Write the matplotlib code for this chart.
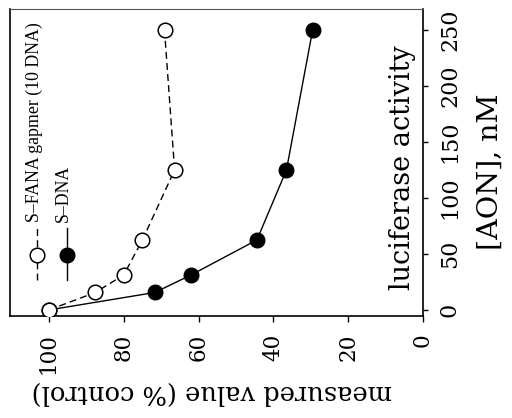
import matplotlib
matplotlib.use("Agg")
import matplotlib.pyplot as plt
from matplotlib.lines import Line2D

# Data (chart is drawn rotated: measured value on horizontal axis, [AON] on vertical axis)
aon_nM = [0, 15.6, 31.25, 62.5, 125, 250]
fana_gapmer = [100, 87.6, 80.0, 75.0, 66.4, 69.1]
s_dna = [100, 71.7, 62.0, 44.4, 36.5, 29.5]

measured_ticks = [100, 80, 60, 40, 20, 0]
aon_ticks = [0, 50, 100, 150, 200, 250]

plt.rcParams['font.family'] = ['DejaVu Serif']

fig = plt.figure(figsize=(5.12, 4.18), dpi=100)
ax = fig.add_axes([10/512, 1 - 316/418, (423-10)/512, (316-9)/418])

ax.plot(fana_gapmer, aon_nM, color='black', lw=1.0, ls=(0, (5, 3)),
        marker='o', ms=10.5, mfc='white', mec='black', mew=1.1, zorder=3)
ax.plot(s_dna, aon_nM, color='black', lw=1.0, ls='-',
        marker='o', ms=10.5, mfc='black', mec='black', zorder=2)

ax.set_xlim(110.4, 0)
ax.set_ylim(-5.4, 268.8)

ax.set_xticks(measured_ticks)
ax.set_xticklabels([str(t) for t in measured_ticks], rotation=90, fontsize=15.5,
                   va='top', ha='center')
ax.yaxis.tick_right()
ax.set_yticks(aon_ticks)
ax.set_yticklabels([str(t) for t in aon_ticks], rotation=90, fontsize=16,
                   va='center', ha='left')
ax.tick_params(axis='x', direction='out', length=4.5, width=1.0, pad=8)
ax.tick_params(axis='y', direction='out', length=3.5, width=1.0, pad=8)

for side in ['left', 'bottom', 'right']:
    ax.spines[side].set_linewidth(1.2)
ax.spines['top'].set_linewidth(0.8)
ax.spines['top'].set_color('#555555')

# axis titles (rotated like the scanned figure)
fig.text(212/512, 1 - 393/418, 'measured value (% control)', rotation=180,
         fontsize=18.5, ha='center', va='center')
fig.text(490/512, 1 - 172/418, '[AON], nM', rotation=90,
         fontsize=20.5, ha='center', va='center')
fig.text(403/512, 1 - 168/418, 'luciferase activity', rotation=90,
         fontsize=19.5, ha='center', va='center')

# legend drawn rotated
lx1, lx2 = 37/512, 67/512
fig.add_artist(Line2D([lx1, lx1], [1 - 280/418, 1 - 228/418], color='black',
                      lw=1.0, ls=(0, (5, 3))))
fig.add_artist(Line2D([lx1], [1 - 255/418], marker='o', ms=10.5, mfc='white',
                      mec='black', mew=1.1, color='black'))
fig.add_artist(Line2D([lx2, lx2], [1 - 280/418, 1 - 228/418], color='black', lw=1.0))
fig.add_artist(Line2D([lx2], [1 - 255/418], marker='o', ms=10.5, mfc='black',
                      mec='black', color='black'))
fig.text(34/512, 1 - 222/418, 'S\u2013FANA gapmer (10 DNA)', rotation=90,
         fontsize=12.8, ha='center', va='bottom', family=['Liberation Serif'])
fig.text(63/512, 1 - 222/418, 'S\u2013DNA', rotation=90,
         fontsize=12.8, ha='center', va='bottom', family=['Liberation Serif'])

fig.savefig('out.png', dpi=100)
